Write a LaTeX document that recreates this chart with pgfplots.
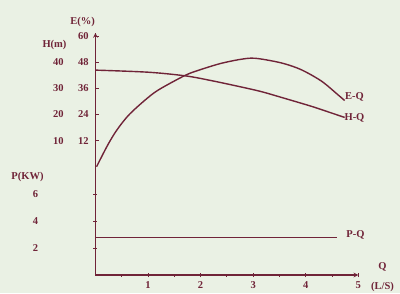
\documentclass[border=0pt]{standalone}
\usepackage{pgfplots}
\pgfplotsset{compat=1.18}
\usepackage{fontspec}
\setmainfont{Liberation Serif}
\definecolor{bg}{RGB}{234,241,228}
\definecolor{ink}{RGB}{112,36,56}
\newcommand{\lab}{\fontsize{10.5}{12}\selectfont\bfseries}
\pgfplotsset{
  common/.style={
    at={(0,0)}, anchor=south west, scale only axis,
    width=262.8pt, height=242pt, xmin=0, xmax=5, clip=false,
    axis line style={ink, line width=1.1pt, -},
    tick style={ink, line width=0.9pt},
    major tick length=4pt, minor tick length=3pt, tick align=inside,
    ticklabel style={text=ink, font=\lab},
    /pgf/number format/assume math mode=true,
  }
}
\begin{document}
\begin{tikzpicture}[x=1pt,y=1pt]
\fill[bg] (-95.5,-18) rectangle (304.5,275);
% P axis and Q axis
\begin{axis}[common,
  ymin=0, ymax=18.02,
  axis x line=bottom, axis y line=left,
  xtick={1,2,3,4,5}, minor xtick={0.5,1.5,2.5,3.5,4.5},
  xticklabel style={yshift=-1pt},
  ytick={2,4,6},
  yticklabel style={anchor=center, xshift=-58pt},
]
\addplot[ink, line width=1.4pt] coordinates {(0,2.78) (4.6,2.78)};
\end{axis}
% E axis
\begin{axis}[common,
  ymin=-49.7, ymax=61.4,
  hide x axis, axis y line*=left,
  ytick={12,24,36,48,60},
  yticklabel style={anchor=center, xshift=-12pt},
]
\addplot[ink, line width=1.4pt, smooth] coordinates {
(0.02,0) (0.233,10.0) (0.405,16.8) (0.627,23.6) (0.933,30.4) (1.2,35.3)
(1.71,42.0) (2.0,44.6) (2.38,47.4) (2.76,49.3) (3.04,49.8) (3.53,47.7)
(3.91,44.6) (4.3,39.3) (4.61,33.1) (4.74,30.4)};
\end{axis}
% H axis
\begin{axis}[common,
  ymin=-41.4, ymax=51.2,
  hide x axis, axis y line*=left,
  ytick={10,20,30,40}, major tick length=0pt,
  yticklabel style={anchor=center, xshift=-37pt},
]
\addplot[ink, line width=1.4pt, smooth] coordinates {
(0,37.0) (1.0,36.2) (1.71,34.8) (2.2,33.0) (2.76,30.6) (3.15,28.8)
(3.53,26.6) (4.1,23.2) (4.4,21.2) (4.74,18.9)};
\end{axis}
\begin{scope}[every node/.style={text=ink, font=\lab, inner sep=0pt}]
\node at (-13,253) {E(\%)};
\node at (-41,230) {H(m)};
\node at (-68,98) {P(KW)};
\node at (287,8) {Q};
\node at (287,-12) {(L/S)};
\node at (259,178) {E-Q};
\node at (259,157) {H-Q};
\node at (260,40) {P-Q};
\end{scope}
\end{tikzpicture}
\end{document}
